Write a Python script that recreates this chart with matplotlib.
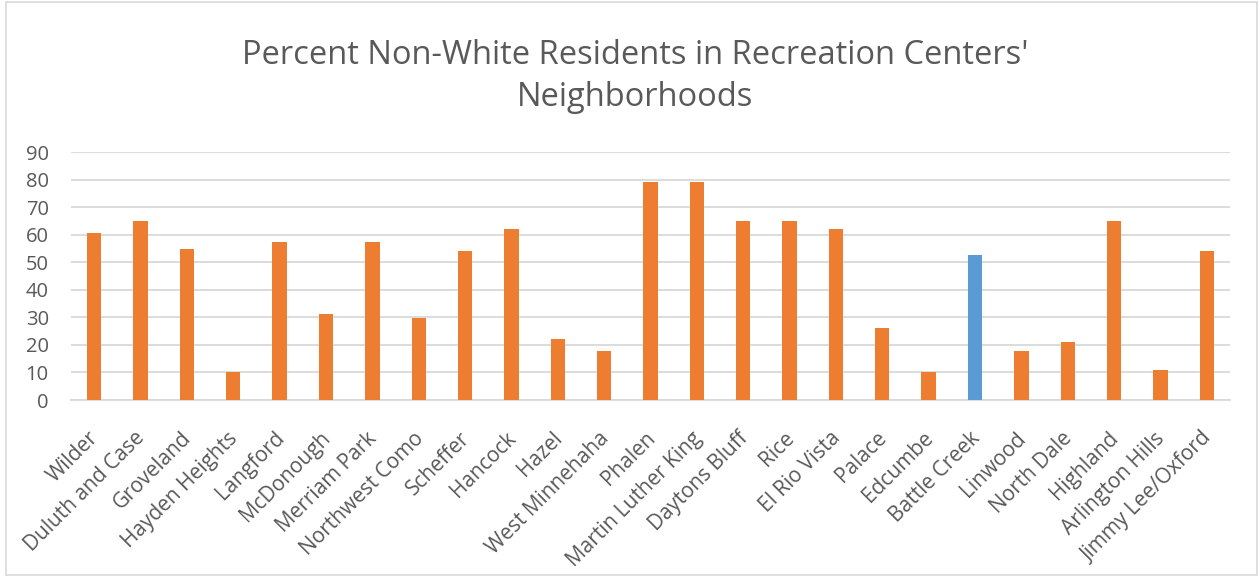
import matplotlib
matplotlib.use('Agg')
import matplotlib.pyplot as plt
from matplotlib.patches import Rectangle
from matplotlib.transforms import ScaledTranslation

centers = ['Wilder', 'Duluth and Case', 'Groveland', 'Hayden Heights', 'Langford',
           'McDonough', 'Merriam Park', 'Northwest Como', 'Scheffer', 'Hancock',
           'Hazel', 'West Minnehaha', 'Phalen', 'Martin Luther King', 'Daytons Bluff',
           'Rice', 'El Rio Vista', 'Palace', 'Edcumbe', 'Battle Creek', 'Linwood',
           'North Dale', 'Highland', 'Arlington Hills', 'Jimmy Lee/Oxford']
pct_nonwhite = [60.5, 65.1, 54.8, 10.3, 57.3, 31.2, 57.3, 29.9, 54.0, 61.9,
                22.1, 17.7, 79.0, 79.0, 65.1, 65.1, 61.9, 26.2, 10.3, 52.6,
                17.7, 20.9, 65.1, 10.9, 54.0]
highlight = 'Battle Creek'
yticks = [0, 10, 20, 30, 40, 50, 60, 70, 80, 90]

plt.rcParams['font.family'] = ['Open Sans', 'DejaVu Sans']
text_col = '#595959'

W, H = 1260, 577
fig = plt.figure(figsize=(W / 100, H / 100), dpi=100)
ax = fig.add_axes([71 / W, 1 - 400 / H, (1230 - 71) / W, (400 - 152) / H])

colors = ['#5B9BD5' if c == highlight else '#ED7D31' for c in centers]
x = range(len(centers))
ax.bar(x, pct_nonwhite, width=0.31, color=colors, zorder=3)

ax.set_xlim(-0.5, len(centers) - 0.5)
ax.set_ylim(0, 90)
ax.set_yticks(yticks)
ax.yaxis.grid(True, color='#D9D9D9', linewidth=1.3, zorder=0)
for s in ['top', 'right', 'left']:
    ax.spines[s].set_visible(False)
ax.spines['bottom'].set_color('#D9D9D9')
ax.spines['bottom'].set_linewidth(1.3)
ax.tick_params(axis='both', length=0, colors=text_col)
ax.tick_params(axis='y', pad=16, labelsize=14.5)
ax.tick_params(axis='x', pad=20, labelsize=15)
ax.set_xticks(list(x))
ax.set_xticklabels(centers, rotation=45, ha='right', rotation_mode='anchor')
shift = ScaledTranslation(-0.06, 0, fig.dpi_scale_trans)
for lbl in ax.get_xticklabels():
    lbl.set_color(text_col)
    lbl.set_transform(lbl.get_transform() + shift)

fig.text(635 / W, 1 - 56 / H, "Percent Non-White Residents in Recreation Centers'",
         ha='center', va='center', fontsize=23.5, color=text_col)
fig.text(635 / W, 1 - 98 / H, "Neighborhoods",
         ha='center', va='center', fontsize=23.5, color=text_col)

fig.patches.append(Rectangle((6 / W, 2 / H), (1257 - 6) / W, (575 - 2) / H,
                             transform=fig.transFigure, fill=False,
                             edgecolor='#D9D9D9', linewidth=1.2))

fig.savefig('out.png', dpi=100)
